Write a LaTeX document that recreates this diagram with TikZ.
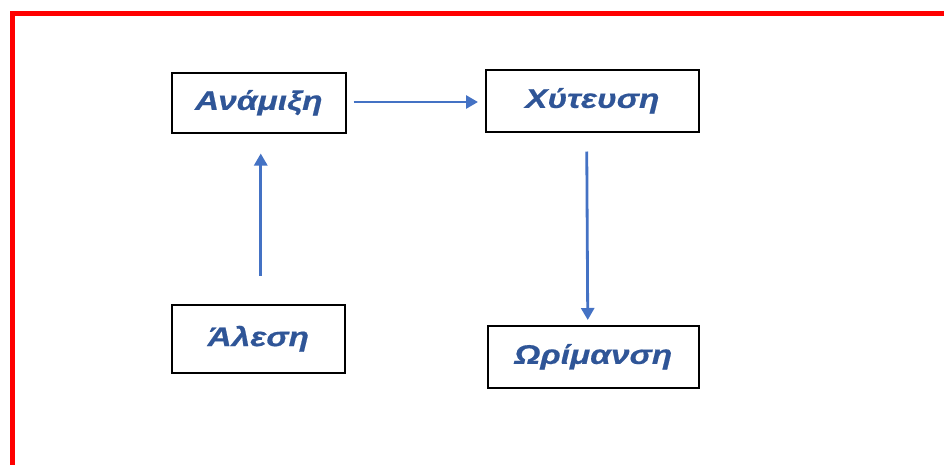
\documentclass[tikz,border=0pt]{standalone}
\usepackage{fontspec}
\setmainfont{Liberation Sans}
\newfontfamily\stepfont[FakeStretch=1.24,FakeBold=0.6]{Liberation Sans}
\usetikzlibrary{arrows.meta}
\definecolor{framered}{RGB}{255,0,0}
\definecolor{steptext}{RGB}{47,85,151}
\definecolor{flowblue}{RGB}{68,114,196}
\tikzset{
  stepbox/.style={draw=black, line width=1.5pt, inner sep=0pt, anchor=north west,
    font=\stepfont\fontsize{27}{32}\selectfont\bfseries\itshape, text=steptext},
  flow/.style={draw=flowblue, line width=2.8pt, -{Triangle[length=12pt,width=13pt]}}
}
\begin{document}
\begin{tikzpicture}[x=1pt,y=-1pt]
  \useasboundingbox (0,0) rectangle (944,464);
  \clip (0,0) rectangle (944,464);
  % outer frame, running past the right and bottom edges
  \draw[framered, line width=5pt] (960,13.5) -- (12.5,13.5) -- (12.5,480);
  % process steps
  \node[stepbox, minimum width=174pt, minimum height=60pt] (mix) at (171,72) {Ανάμιξη};
  \node[stepbox, minimum width=213pt, minimum height=62pt] (cast) at (485,69) {Χύτευση};
  \node[stepbox, minimum width=173pt, minimum height=68pt] (grind) at (171,304) {Άλεση};
  \node[stepbox, minimum width=211pt, minimum height=62pt] (cure) at (487,325) {Ωρίμανση};
  % flow between steps
  \draw[flow] ([xshift=2pt,yshift=-142pt]mix.south) -- ([xshift=2pt,yshift=-20pt]mix.south);
  \draw[flow] ([xshift=7pt]mix.east |- 0,102) -- ([xshift=-7pt]cast.west |- 0,102);
  \draw[flow] ([xshift=-5.5pt,yshift=-19pt]cast.south) -- ([xshift=-5.5pt,yshift=5pt]cure.north);
\end{tikzpicture}
\end{document}
